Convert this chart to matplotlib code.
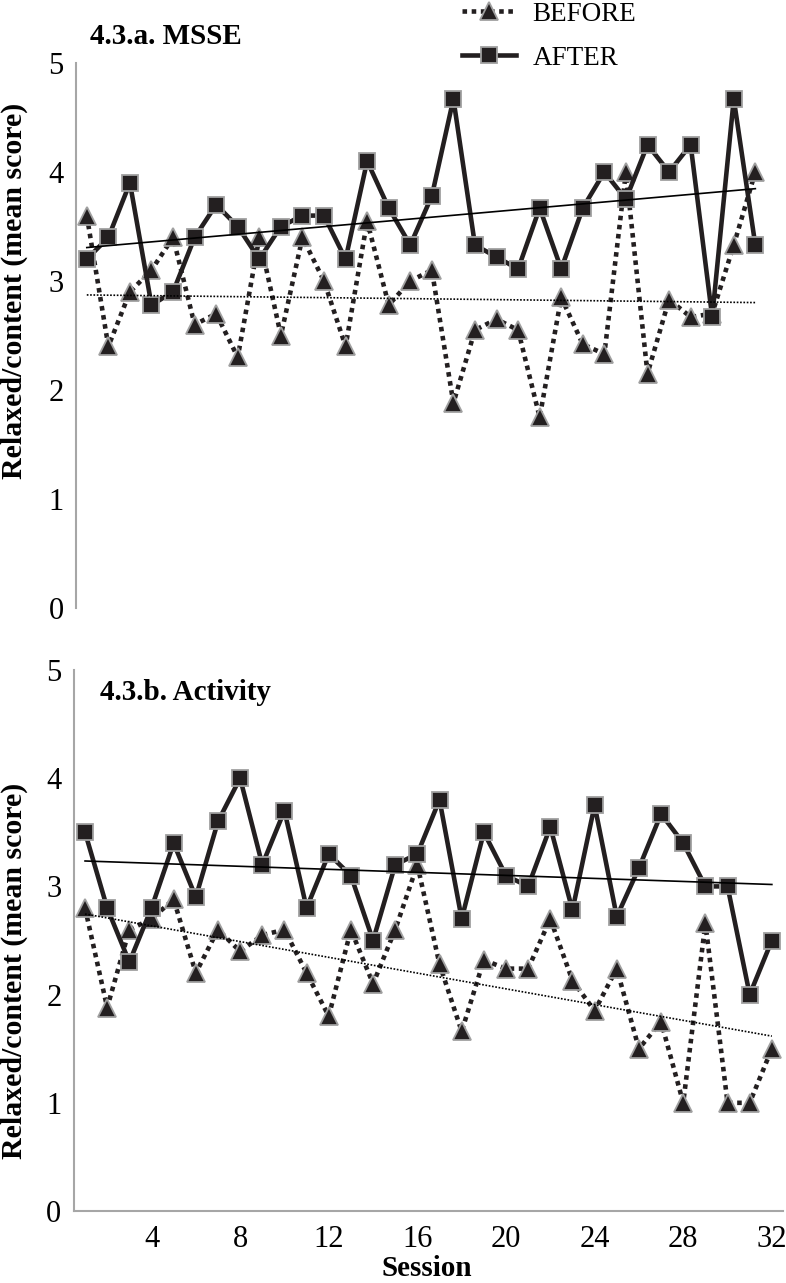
import matplotlib
matplotlib.use('Agg')
import matplotlib.pyplot as plt
import numpy as np

plt.rcParams['font.family'] = ['Liberation Serif', 'DejaVu Serif']

# 数据：每次 session 的平均分
sessions = np.arange(1, 33)
msse_before = [3.6, 2.4, 2.9, 3.1, 3.4, 2.6, 2.7, 2.3, 3.4, 2.5, 3.4, 3.0, 2.4, 3.55, 2.78, 3.0,
               3.1, 1.88, 2.55, 2.65, 2.55, 1.75, 2.85, 2.42, 2.33, 4.0, 2.15, 2.83, 2.67, 2.7, 3.33, 4.0]
msse_after = [3.2, 3.4, 3.9, 2.78, 2.9, 3.4, 3.7, 3.5, 3.2, 3.5, 3.6, 3.6, 3.2, 4.1, 3.67, 3.33,
              3.78, 4.67, 3.33, 3.22, 3.11, 3.67, 3.11, 3.67, 4.0, 3.75, 4.25, 4.0, 4.25, 2.67, 4.67, 3.33]
act_before = [2.8, 1.88, 2.6, 2.7, 2.88, 2.2, 2.6, 2.4, 2.55, 2.6, 2.2, 1.8, 2.6, 2.1, 2.6, 3.2,
              2.28, 1.66, 2.32, 2.24, 2.24, 2.7, 2.13, 1.85, 2.24, 1.5, 1.75, 1.0, 2.66, 1.0, 1.0, 1.5]
act_after = [3.5, 2.8, 2.3, 2.8, 3.4, 2.9, 3.6, 4.0, 3.2, 3.7, 2.8, 3.3, 3.1, 2.5, 3.2, 3.3,
             3.8, 2.7, 3.5, 3.1, 3.0, 3.55, 2.78, 3.75, 2.72, 3.17, 3.67, 3.4, 3.0, 3.0, 2.0, 2.5]
x_ticks = [4, 8, 12, 16, 20, 24, 28, 32]
y_ticks = [0, 1, 2, 3, 4, 5]

dark = '#231f20'
edge = '#a0a0a0'
spine_c = '#a6a6a6'

fig = plt.figure(figsize=(7.86, 12.83), dpi=100)
ax1 = fig.add_axes([0.0967, 0.5261, 0.878, 0.4248])
ax2 = fig.add_axes([0.0941, 0.0561, 0.902, 0.4217])


def draw(ax, before, after):
    ax.plot(sessions, before, linestyle=(0, (1, 1)), lw=3.3, color=dark,
            marker='^', ms=13, mfc=dark, mec=edge, mew=1.3, label='BEFORE', zorder=3)
    ax.plot(sessions, after, linestyle='-', lw=3.3, color=dark,
            marker='s', ms=12, mfc=dark, mec=edge, mew=1.3, label='AFTER', zorder=4)
    # 线性趋势线
    ends = sessions[[0, -1]]
    k, b = np.polyfit(sessions, before, 1)
    ax.plot(ends, k * ends + b, color='black', lw=1.2, linestyle=(0, (1, 1)), zorder=5)
    k, b = np.polyfit(sessions, after, 1)
    ax.plot(ends, k * ends + b, color='black', lw=1.2, linestyle='-', zorder=5)
    ax.set_xlim(0.5, 32.5)
    ax.set_ylim(0, 5)
    ax.set_yticks(y_ticks)
    for s in ['top', 'right']:
        ax.spines[s].set_visible(False)
    ax.spines['left'].set_color(spine_c)
    ax.spines['left'].set_linewidth(1.5)
    ax.spines['bottom'].set_color(spine_c)
    ax.spines['bottom'].set_linewidth(1.5)
    ax.tick_params(axis='y', length=0, labelsize=22, pad=9)
    ax.tick_params(axis='x', length=0, labelsize=22, pad=10)


draw(ax1, msse_before, msse_after)
draw(ax2, act_before, act_after)

ax1.spines['bottom'].set_visible(False)
ax1.set_xticks([])
ax2.set_xticks(x_ticks)

handles, labels = ax1.get_legend_handles_labels()
fig.legend(handles, labels, loc='upper left', bbox_to_anchor=(462 / 786, 0.9987),
           frameon=False, fontsize=19.5, numpoints=1, handlelength=2.0,
           handletextpad=0.6, labelspacing=0.7, borderpad=0, borderaxespad=0)

fig.text(90 / 786, 1 - 36 / 1283, '4.3.a. MSSE', fontsize=21, fontweight='bold', va='center')
fig.text(100 / 786, 1 - 693 / 1283, '4.3.b. Activity', fontsize=21, fontweight='bold', va='center')

fig.text(14 / 786, 1 - 291 / 1283, 'Relaxed/content (mean score)', rotation=90,
         fontsize=21.5, fontweight='bold', ha='center', va='center')
fig.text(14 / 786, 1 - 971 / 1283, 'Relaxed/content (mean score)', rotation=90,
         fontsize=21.5, fontweight='bold', ha='center', va='center')
fig.text(427 / 786, 1 - 1268 / 1283, 'Session', fontsize=21, fontweight='bold',
         ha='center', va='center')

fig.savefig('out.png', dpi=100)
